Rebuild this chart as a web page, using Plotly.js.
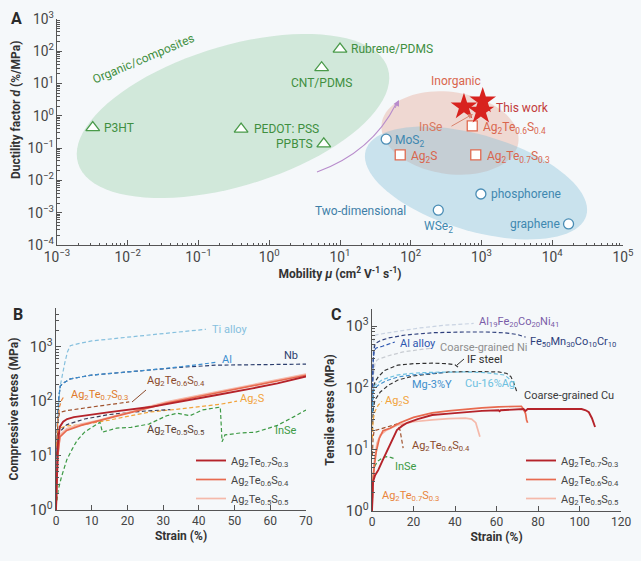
<!DOCTYPE html>
<html><head><meta charset="utf-8">
<script src="https://cdn.plot.ly/plotly-3.0.1.min.js"></script>
<style>html,body{margin:0;padding:0;background:#f5f8fa}</style>
</head><body><div id="chart" style="width:641px;height:561px"></div>
<script>
// ================= DATA =================
// ---- Panel A: ductility factor vs mobility ----
const organicNames = ['P3HT', 'PEDOT: PSS', 'PPBTS', 'CNT/PDMS', 'Rubrene/PDMS'];
const organicMobility = [0.0032, 0.40, 5.9, 5.5, 10];
const organicDuctility = [0.43, 0.39, 0.135, 31, 117];

const inorganicNames = ['Ag<sub>2</sub>Te<sub>0.6</sub>S<sub>0.4</sub>', 'Ag<sub>2</sub>S', 'Ag<sub>2</sub>Te<sub>0.7</sub>S<sub>0.3</sub>'];
const inorganicMobility = [740, 71, 830];
const inorganicDuctility = [0.49, 0.062, 0.062];

const twoDNames = ['MoS<sub>2</sub>', 'phosphorene', 'WSe<sub>2</sub>', 'graphene'];
const twoDMobility = [45, 980, 245, 17000];
const twoDDuctility = [0.19, 0.0038, 0.0012, 0.00045];

const thisWorkMobility = [565, 1040, 980];
const thisWorkDuctility = [1.9, 2.9, 1.4];

// tick labels that Plotly would otherwise print as "1" and "10"
const powerTickAlias = { '1': '10<sup>0</sup>', '10': '10<sup>1</sup>' };

// ---- Panel B: compressive stress-strain ----
const compStrainTi = [0.2, 0.6, 1.1, 1.8, 2.5, 3.2, 4, 6, 10, 20, 30, 42];
const compStressTi = [10, 60, 180, 330, 520, 800, 1050, 1130, 1280, 1500, 1750, 2100];
const compStrainAl = [0.1, 0.4, 0.8, 1.2, 2, 4, 10, 17, 26, 35, 45];
const compStressAl = [5, 40, 120, 190, 215, 257, 302, 330, 374, 430, 520];
const compStrainNb = [0.1, 0.4, 0.8, 1.2, 2, 4, 10, 17, 26, 35, 45, 55, 62, 70];
const compStressNb = [5, 40, 120, 190, 215, 257, 302, 330, 374, 420, 460, 470, 478, 480];
const compStrainRef0604 = [0.2, 0.5, 1, 3, 8, 14, 20.5];
const compStressRef0604 = [10, 40, 62, 67, 75, 85, 97];
const compStrainRef0703 = [0.2, 0.5, 1, 1.6, 2.3];
const compStressRef0703 = [15, 45, 80, 105, 125];
const compStrainAg2S = [0.3, 1, 3, 7.6, 15, 26, 33, 40, 46, 50.7];
const compStressAg2S = [15, 32, 35, 37, 45, 63, 70, 78, 88, 100];
const compStrainRef0505 = [0.3, 1, 3, 8, 15, 25, 32];
const compStressRef0505 = [10, 27, 37, 47, 57, 66, 70];
const compStrainInSe = [0.3, 0.6, 1.5, 3, 4.5, 5.9, 8, 10.4, 12.3, 13, 17, 21, 26, 31, 34, 37.5, 41, 46, 46.5, 47.3, 51.5, 56, 62, 66.4, 70];
const compStressInSe = [1.5, 2.3, 4, 8.3, 13, 19, 27, 34, 41, 27, 32, 33, 38, 54, 60, 54, 69, 78, 18, 24, 26, 27, 36, 51, 69];
const compStrain0703 = [0, 0.2, 0.5, 0.8, 1.1, 2, 3.1, 5, 7.6, 15, 26.3, 35, 45, 55, 62, 70];
const compStress0703 = [1, 5, 15, 25, 34, 42, 47, 51, 54, 63, 78, 98, 130, 172, 212, 285];
const compStrain0604 = [0, 0.2, 0.5, 1.1, 3, 7, 12.3, 17, 21.6, 26, 31, 40, 50, 60, 70];
const compStress0604 = [1, 4, 10, 22, 29, 36, 44, 53, 63, 76, 92, 122, 165, 225, 300];
const compStrain0505 = [0, 0.2, 0.5, 1.1, 3, 7, 12.3, 17, 21.6, 26, 31, 40, 50, 60, 70];
const compStress0505 = [1, 4, 10, 24, 31, 38, 45, 55, 65, 80, 97, 128, 172, 235, 315];

// ---- Panel C: tensile stress-strain ----
const tenStrainAlFeCoNi = [0.2, 0.5, 1, 2, 6, 12, 23, 35, 49];
const tenStressAlFeCoNi = [100, 400, 650, 720, 760, 820, 930, 1030, 1100];
const tenStrainFeMnCoCr = [0.2, 0.5, 1, 1.5, 4, 8, 16, 30, 45, 55, 64, 70, 74];
const tenStressFeMnCoCr = [80, 250, 420, 520, 580, 640, 715, 780, 800, 800, 775, 730, 660];
const tenStrainAlAlloy = [0.2, 0.5, 1, 2, 5, 8, 11];
const tenStressAlAlloy = [60, 250, 400, 440, 470, 510, 550];
const tenStrainNi = [0.2, 0.6, 1.5, 3, 8, 15, 22, 29];
const tenStressNi = [50, 150, 260, 290, 330, 380, 410, 440];
const tenStrainIF = [0.2, 0.6, 1.4, 3, 6, 12.5, 20, 29, 36, 40, 41.5];
const tenStressIF = [40, 90, 123, 150, 190, 233, 245, 250, 245, 235, 215];
const tenStrainCu = [0.2, 0.6, 1.4, 4, 8, 12.5, 20, 30, 37, 50, 61, 65, 67, 68.5, 70];
const tenStressCu = [20, 45, 63, 85, 110, 133, 155, 172, 180, 183, 180, 170, 150, 115, 82];
const tenStrainMgY = [0.2, 0.5, 1, 3, 7, 12.5, 20, 29, 35];
const tenStressMgY = [40, 80, 95, 110, 130, 149, 162, 173, 176];
const tenStrainCuAg = [0.2, 0.6, 1.4, 5, 12, 21, 30, 45, 55, 64, 66, 67.5];
const tenStressCuAg = [50, 90, 110, 135, 160, 173, 178, 180, 175, 160, 140, 123];
const tenStrainAg2S = [0.2, 0.5, 1.5, 3, 4.8];
const tenStressAg2S = [15, 30, 42, 52, 60];
const tenStrainRef0604 = [0.2, 0.5, 1, 3, 7, 12, 13.5, 14.5, 15];
const tenStressRef0604 = [8, 15, 20, 21, 23, 25.7, 20.6, 13, 10.5];
const tenStrainInSe = [0.2, 0.5, 1.5, 3, 5, 7, 9, 11];
const tenStressInSe = [2, 4, 5.5, 6.5, 7.3, 7.6, 7.4, 7.0];
const tenStrainRef0703 = [0, 0.3, 0.6];
const tenStressRef0703 = [1, 2, 3];
const tenStrain0703 = [0, 0.3, 0.5, 1.5, 3, 5, 7, 9.5, 12, 14.5, 17, 22, 29, 37, 45, 53, 61, 61.5, 62, 68, 73, 74, 75, 76, 85, 95, 101, 103, 104.5, 106, 107.5];
const tenStress0703 = [1, 2, 3, 3.8, 4.6, 6.5, 9, 14, 20.6, 24, 27, 31, 36, 38, 40, 42, 43, 41.5, 43, 44, 45, 42, 45, 45, 45, 45, 45, 43, 40, 32, 23];
const tenStrain0604 = [0, 0.3, 1, 2, 3.5, 5.3, 8.7, 13.5, 20, 29, 37, 45, 53, 61, 68, 72, 73, 74, 74.5, 75];
const tenStress0604 = [1, 2.5, 5, 9, 15, 20, 22, 27, 33, 39, 42, 45, 47, 49, 50, 50, 45, 38, 30, 27];
const tenStrain0505 = [0, 0.3, 1, 2.4, 4, 7, 12.5, 20, 29, 37, 45, 48, 50, 51, 52];
const tenStress0505 = [1, 2.5, 6, 12.6, 17, 20.5, 25, 28, 30, 31.5, 32, 31, 27, 21, 16];

// ================= LAYOUT HELPERS =================
const W = 641, H = 561;
const fx = px => px / W, fy = py => 1 - py / H;
const FONT = 'Roboto, "Noto Sans", sans-serif';
const sub = (a, b) => 'Ag<sub>2</sub>Te<sub>' + a + '</sub>S<sub>' + b + '</sub>';

function ellipsePath(cx, cy, a, b, deg) {
  const th = deg * Math.PI / 180, n = 90; let d = '';
  for (let i = 0; i <= n; i++) {
    const t = 2 * Math.PI * i / n;
    const x = cx + a * Math.cos(t) * Math.cos(th) - b * Math.sin(t) * Math.sin(th);
    const y = cy + a * Math.cos(t) * Math.sin(th) + b * Math.sin(t) * Math.cos(th);
    d += (i ? ' L ' : 'M ') + fx(x).toFixed(5) + ',' + fy(y).toFixed(5);
  }
  return d + ' Z';
}

function lab(text, px, py, color, size, extra) {
  return Object.assign({ text: text, xref: 'paper', yref: 'paper', x: fx(px), y: fy(py), xanchor: 'left', yanchor: 'middle',
    showarrow: false, font: { family: FONT, size: size || 11, color: color } }, extra || {});
}

function curve(x, y, xa, ya, color, dash, width, name) {
  return { type: 'scatter', mode: 'lines', x: x, y: y, xaxis: xa, yaxis: ya, name: name || '',
    line: { color: color, width: width || 1.2, dash: dash ? '4px,2.5px' : 'solid' },
    showlegend: false, hoverinfo: 'skip' };
}

// ================= TRACES =================
const C_GREEN = '#4a9a4a', C_SALMON = '#e06a50', C_BLUE2D = '#4a8db5';
const C_R1 = '#b5232a', C_R2 = '#e86a4f', C_R3 = '#f5b9aa';

const traces = [
  { type: 'scatter', mode: 'markers', x: organicMobility, y: organicDuctility, xaxis: 'x', yaxis: 'y', showlegend: false, hoverinfo: 'skip',
    marker: { symbol: 'triangle-up', size: 12, color: '#ffffff', line: { color: C_GREEN, width: 1.3 } } },
  { type: 'scatter', mode: 'markers', x: inorganicMobility, y: inorganicDuctility, xaxis: 'x', yaxis: 'y', showlegend: false, hoverinfo: 'skip',
    marker: { symbol: 'square', size: 10, color: '#ffffff', line: { color: C_SALMON, width: 1.3 } } },
  { type: 'scatter', mode: 'markers', x: twoDMobility, y: twoDDuctility, xaxis: 'x', yaxis: 'y', showlegend: false, hoverinfo: 'skip',
    marker: { symbol: 'circle', size: 10, color: '#ffffff', line: { color: C_BLUE2D, width: 1.3 } } },
  { type: 'scatter', mode: 'markers', x: thisWorkMobility, y: thisWorkDuctility, xaxis: 'x', yaxis: 'y', showlegend: false, hoverinfo: 'skip',
    marker: { symbol: 'star', size: 20, color: '#d8221e', line: { width: 0 } } },

  // Panel B
  curve(compStrainTi, compStressTi, 'x2', 'y2', '#86c0de', true),
  curve(compStrainNb, compStressNb, 'x2', 'y2', '#2d3f6e', true),
  curve(compStrainAl, compStressAl, 'x2', 'y2', '#3c8fd0', true),
  curve(compStrainRef0604, compStressRef0604, 'x2', 'y2', '#a0522d', true),
  curve(compStrainRef0703, compStressRef0703, 'x2', 'y2', '#e9843a', true),
  curve(compStrainAg2S, compStressAg2S, 'x2', 'y2', '#f2a33a', true),
  curve(compStrainRef0505, compStressRef0505, 'x2', 'y2', '#3b3b55', true),
  curve(compStrainInSe, compStressInSe, 'x2', 'y2', '#3d9a45', true),
  curve(compStrain0505, compStress0505, 'x2', 'y2', C_R3, false, 1.7, sub('0.5', '0.5')),
  curve(compStrain0604, compStress0604, 'x2', 'y2', C_R2, false, 1.7, sub('0.6', '0.4')),
  curve(compStrain0703, compStress0703, 'x2', 'y2', C_R1, false, 1.9, sub('0.7', '0.3')),

  // Panel C
  curve(tenStrainAlFeCoNi, tenStressAlFeCoNi, 'x3', 'y3', '#c9d3e2', true),
  curve(tenStrainNi, tenStressNi, 'x3', 'y3', '#c8ccd2', true),
  curve(tenStrainFeMnCoCr, tenStressFeMnCoCr, 'x3', 'y3', '#2e3f7c', true),
  curve(tenStrainAlAlloy, tenStressAlAlloy, 'x3', 'y3', '#2c56b0', true),
  curve(tenStrainIF, tenStressIF, 'x3', 'y3', '#303030', true),
  curve(tenStrainCu, tenStressCu, 'x3', 'y3', '#3a3a3a', true),
  curve(tenStrainCuAg, tenStressCuAg, 'x3', 'y3', '#6cc0e0', true),
  curve(tenStrainMgY, tenStressMgY, 'x3', 'y3', '#3f8fcc', true),
  curve(tenStrainAg2S, tenStressAg2S, 'x3', 'y3', '#f2a33a', true),
  curve(tenStrainRef0604, tenStressRef0604, 'x3', 'y3', '#a0522d', true),
  curve(tenStrainInSe, tenStressInSe, 'x3', 'y3', '#3d9a45', true),
  curve(tenStrainRef0703, tenStressRef0703, 'x3', 'y3', '#e9843a', true),
  curve(tenStrain0505, tenStress0505, 'x3', 'y3', C_R3, false, 1.7, sub('0.5', '0.5')),
  curve(tenStrain0604, tenStress0604, 'x3', 'y3', C_R2, false, 1.7, sub('0.6', '0.4')),
  curve(tenStrain0703, tenStress0703, 'x3', 'y3', C_R1, false, 1.9, sub('0.7', '0.3'))
];

// legend entries (reference order: 0.7/0.3, 0.6/0.4, 0.5/0.5)
traces.forEach(t => {
  if (t.name && t.name.indexOf('Ag') === 0) {
    t.showlegend = true;
    t.legend = t.xaxis === 'x2' ? 'legend' : 'legend2';
    t.legendrank = t.name.indexOf('0.7') > 0 ? 1 : (t.name.indexOf('0.6') > 0 ? 2 : 3);
  }
});

// ================= ANNOTATIONS =================
const annotations = [];
annotations.push(lab('<b>A</b>', 9, 18, '#2a2a2a', 16));
annotations.push(lab('<b>B</b>', 11, 314, '#2a2a2a', 16));
annotations.push(lab('<b>C</b>', 329, 314, '#2a2a2a', 16));

const organicLabelPos = [['left', 9, 0], ['left', 11, 0], ['right', -9, 0], ['center', 0, -15], ['left', 9, 0]];
const inorganicLabelPos = [['left', 9, -2], ['left', 9, -2], ['left', 9, -2]];
const twoDLabelPos = [['left', 7, -2], ['left', 8, 0], ['center', 0, -17], ['right', -7, 0]];
function pointLabels(names, xs, ys, pos, color) {
  names.forEach((n, i) => annotations.push({ text: n, xref: 'x', yref: 'y', x: Math.log10(xs[i]), y: Math.log10(ys[i]),
    xanchor: pos[i][0], yanchor: 'middle', xshift: pos[i][1], yshift: pos[i][2], showarrow: false,
    font: { family: FONT, size: 12, color: color } }));
}
pointLabels(organicNames, organicMobility, organicDuctility, organicLabelPos, '#3f8f3f');
pointLabels(inorganicNames, inorganicMobility, inorganicDuctility, inorganicLabelPos, '#d9664d');
pointLabels(twoDNames, twoDMobility, twoDDuctility, twoDLabelPos, '#3f88b0');

annotations.push(lab('Organic/composites', 143, 59, '#3f8f3f', 12, { xanchor: 'center', textangle: -23 }));
annotations.push(lab('Inorganic', 456, 81, '#d9664d', 12, { xanchor: 'center' }));
annotations.push(lab('Two-dimensional', 360, 211, '#3f7fa8', 12, { xanchor: 'center' }));
annotations.push(lab('This work', 494, 108, '#c23b3b', 12));
annotations.push(lab('InSe', 444, 127, '#d9785f', 12, { xanchor: 'right' }));
annotations.push({ text: ' ', xref: 'paper', yref: 'paper', x: fx(473), y: fy(114), ax: -23, ay: 13, showarrow: true,
  arrowhead: 2, arrowsize: 1, arrowwidth: 1, arrowcolor: '#d9836d', font: { size: 1 } });
annotations.push({ text: ' ', xref: 'paper', yref: 'paper', x: fx(399), y: fy(100), ax: -5, ay: 10, showarrow: true,
  arrowhead: 2, arrowsize: 1.2, arrowwidth: 1, arrowcolor: '#b88ccc', font: { size: 1 } });
annotations.push(lab('<b>Ductility factor <i>d</i> (%/MPa)</b>', 16, 110, '#333', 12, { xanchor: 'center', textangle: -90 }));

// B labels
annotations.push(lab('Ti alloy', 210, 329, '#86c0de'));
annotations.push(lab('Al', 220, 359, '#3c8fd0'));
annotations.push(lab('Nb', 282, 356, '#2d3f6e'));
annotations.push(lab(sub('0.6', '0.4'), 145, 381, '#8b4a2b'));
annotations.push(lab(sub('0.7', '0.3'), 69, 395, '#e07b2a'));
annotations.push(lab('Ag<sub>2</sub>S', 238, 399, '#f2a33a'));
annotations.push(lab(sub('0.5', '0.5'), 145, 430, '#5a3d30'));
annotations.push(lab('InSe', 273, 430, '#3d9a45'));

// C labels
annotations.push(lab('Al<sub>19</sub>Fe<sub>20</sub>Co<sub>20</sub>Ni<sub>41</sub>', 477, 322, '#7a5ca8'));
annotations.push(lab('Fe<sub>50</sub>Mn<sub>30</sub>Co<sub>10</sub>Cr<sub>10</sub>', 528, 342, '#2e3f7c'));
annotations.push(lab('Al alloy', 398, 343, '#2c56b0'));
annotations.push(lab('Coarse-grained Ni', 438, 347, '#8e8e8e'));
annotations.push(lab('IF steel', 465, 359, '#303030'));
annotations.push(lab('Mg-3%Y', 410, 384, '#3f8fcc'));
annotations.push(lab('Cu-16%Ag', 463, 383, '#6cc0e0'));
annotations.push(lab('Coarse-grained Cu', 522, 395, '#3a3a3a'));
annotations.push(lab('Ag<sub>2</sub>S', 383, 401, '#f2a33a'));
annotations.push(lab(sub('0.6', '0.4'), 410, 446, '#8b4a2b'));
annotations.push(lab('InSe', 393, 466, '#3d9a45'));
annotations.push(lab(sub('0.7', '0.3'), 380, 496, '#e9843a'));

// ================= SHAPES =================
const shapes = [
  { type: 'path', xref: 'paper', yref: 'paper', layer: 'below', path: ellipsePath(233, 116, 162, 70, -17),
    fillcolor: 'rgba(150,205,165,0.38)', line: { width: 0 } },
  { type: 'path', xref: 'paper', yref: 'paper', layer: 'below', path: ellipsePath(450, 133, 69, 41, 8),
    fillcolor: 'rgba(228,150,128,0.32)', line: { width: 0 } },
  { type: 'path', xref: 'paper', yref: 'paper', layer: 'below', path: ellipsePath(476, 183, 115, 48, 16.5),
    fillcolor: 'rgba(130,188,215,0.38)', line: { width: 0 } },
  { type: 'path', xref: 'paper', yref: 'paper', layer: 'above',
    path: 'M ' + fx(317) + ',' + fy(172) + ' Q ' + fx(372) + ',' + fy(152) + ' ' + fx(396) + ',' + fy(104),
    line: { color: '#b88ccc', width: 1.1 } },
  { type: 'line', xref: 'paper', yref: 'paper', x0: fx(132), y0: fy(402), x1: fx(146), y1: fy(390), line: { color: '#8b4a2b', width: 1 } },
  { type: 'line', xref: 'paper', yref: 'paper', x0: fx(457), y0: fy(365), x1: fx(464), y1: fy(359), line: { color: '#303030', width: 1 } }
];

// ================= AXES =================
const tickFont = s => ({ family: FONT, size: s, color: '#444' });
const titleFont = { family: FONT, size: 12, color: '#333' };
const base = { showline: true, linecolor: '#555', linewidth: 1, ticks: 'inside', ticklen: 5, tickwidth: 1, tickcolor: '#555',
  showgrid: false, zeroline: false, fixedrange: true, mirror: false };
const logAxis = { type: 'log', tickmode: 'linear', tick0: 0, dtick: 1, exponentformat: 'power', labelalias: powerTickAlias,
  minor: { dtick: 'D1', ticks: 'inside', ticklen: 2.5, tickwidth: 1, tickcolor: '#555', showgrid: false } };

const layout = {
  width: W, height: H, margin: { l: 0, r: 0, t: 0, b: 0 }, autosize: false,
  paper_bgcolor: '#f5f8fa', plot_bgcolor: 'rgba(0,0,0,0)',
  font: { family: FONT, color: '#333' },
  showlegend: true, hovermode: false,
  xaxis: Object.assign({}, base, logAxis, { domain: [fx(57), fx(623)], anchor: 'y', range: [-3, 5], tickfont: tickFont(11),
    title: { text: '<b>Mobility <i>μ</i> (cm<sup>2</sup> V<sup>-1</sup> s<sup>-1</sup>)</b>', font: titleFont, standoff: 4 } }),
  yaxis: Object.assign({}, base, logAxis, { domain: [fy(245), fy(19)], anchor: 'x', range: [-4, 3], tickfont: tickFont(11) }),
  xaxis2: Object.assign({}, base, { domain: [fx(56), fx(306)], anchor: 'y2', range: [0, 70], tickmode: 'linear', tick0: 0, dtick: 10,
    tickfont: tickFont(12), title: { text: '<b>Strain (%)</b>', font: titleFont, standoff: 4 } }),
  yaxis2: Object.assign({}, base, logAxis, { domain: [fy(510), fy(308)], anchor: 'x2', range: [0, 3.713], tickfont: tickFont(12),
    title: { text: '<b>Compressive stress (MPa)</b>', font: titleFont, standoff: 8 } }),
  xaxis3: Object.assign({}, base, { domain: [fx(372), fx(621)], anchor: 'y3', range: [0, 120], tickmode: 'linear', tick0: 0, dtick: 20,
    tickfont: tickFont(12), title: { text: '<b>Strain (%)</b>', font: titleFont, standoff: 4 } }),
  yaxis3: Object.assign({}, base, logAxis, { domain: [fy(511), fy(309)], anchor: 'x3', range: [0, 3.276], tickfont: tickFont(12),
    title: { text: '<b>Tensile stress (MPa)</b>', font: titleFont, standoff: 8 } }),
  legend: { x: fx(191), y: fy(446), xanchor: 'left', yanchor: 'top', bgcolor: 'rgba(0,0,0,0)', borderwidth: 0,
    font: { family: FONT, size: 11, color: '#444' }, itemwidth: 30, traceorder: 'normal' },
  legend2: { x: fx(521), y: fy(446), xanchor: 'left', yanchor: 'top', bgcolor: 'rgba(0,0,0,0)', borderwidth: 0,
    font: { family: FONT, size: 11, color: '#444' }, itemwidth: 30, traceorder: 'normal' },
  annotations: annotations,
  shapes: shapes
};

Plotly.newPlot('chart', traces, layout, { staticPlot: true, displayModeBar: false });
</script></body></html>
